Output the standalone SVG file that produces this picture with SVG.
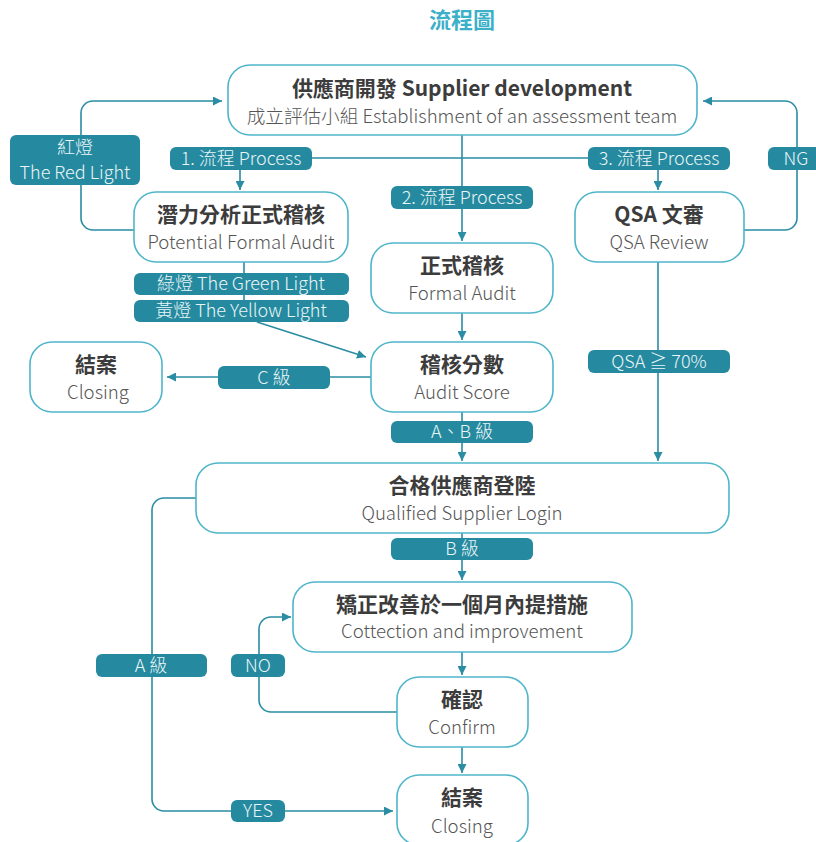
<svg xmlns="http://www.w3.org/2000/svg" width="816" height="842" viewBox="0 0 816 842">
<defs>
<marker id="arr" viewBox="0 0 10 10" refX="10" refY="5" markerWidth="9" markerHeight="9" markerUnits="userSpaceOnUse" orient="auto">
<path d="M0,0 L10,5 L0,10 z" fill="#2a8da3"/>
</marker>
<style>
.node{fill:#fff;stroke:#4fb5ca;stroke-width:1.6}
.t1{font-family:"Noto Sans CJK TC","Noto Sans",sans-serif;font-weight:bold;font-size:21px;fill:#3c3c3c;text-anchor:middle}
.t2{font-family:"Noto Sans CJK TC","Noto Sans",sans-serif;font-weight:300;font-size:18.6px;fill:#555;text-anchor:middle}
.lb{fill:#258a9f}
.lt{font-family:"Noto Sans CJK TC","Noto Sans",sans-serif;font-weight:300;font-size:18px;fill:#eaf5f7;text-anchor:middle}
.c{fill:none;stroke:#2a8da3;stroke-width:1.6}
.ca{fill:none;stroke:#2a8da3;stroke-width:1.6;marker-end:url(#arr)}
</style>
</defs>
<rect width="816" height="842" fill="#fff"/>
<text x="462" y="28" font-family="'Noto Sans CJK TC',sans-serif" font-weight="bold" font-size="22" fill="#3cb0c9" text-anchor="middle">流程圖</text>

<g id="connectors">
<path class="ca" d="M134,230 H93 A12,12 0 0 1 81,218 V113 A12,12 0 0 1 93,101 H222"/>
<path class="ca" d="M744,230 H785 A12,12 0 0 0 797,218 V113 A12,12 0 0 0 785,101 H703"/>
<path class="ca" d="M462,135 V241"/>
<path class="ca" d="M462,158 H252 A12,12 0 0 0 240,170 V190"/>
<path class="ca" d="M462,158 H646 A12,12 0 0 1 658,170 V190"/>
<path class="c" d="M244,262 V300"/>
<path class="ca" d="M257,322 L366,357"/>
<path class="ca" d="M462,313 V340"/>
<path class="ca" d="M371,377 H167"/>
<path class="ca" d="M462,412 V461"/>
<path class="ca" d="M658,262 V461"/>
<path class="ca" d="M462,533 V580"/>
<path class="ca" d="M462,652 V675"/>
<path class="ca" d="M462,747 V773"/>
<path class="ca" d="M397,712 H271 A12,12 0 0 1 259,700 V629 A12,12 0 0 1 271,617 H291"/>
<path class="ca" d="M196,498 H164 A12,12 0 0 0 152,510 V799 A12,12 0 0 0 164,811 H393"/>
</g>

<g id="labels">
<rect class="lb" x="10" y="135" width="130" height="50" rx="6"/>
<text class="lt" x="75" y="154">紅燈</text>
<text class="lt" x="75" y="179">The Red Light</text>
<rect class="lb" x="768" y="147" width="56" height="23" rx="6"/>
<text class="lt" x="796" y="165">NG</text>
<rect class="lb" x="170" y="147" width="142" height="23" rx="6"/>
<text class="lt" x="241" y="165">1. 流程 Process</text>
<rect class="lb" x="588" y="147" width="142" height="23" rx="6"/>
<text class="lt" x="659" y="165">3. 流程 Process</text>
<rect class="lb" x="391" y="186" width="142" height="23" rx="6"/>
<text class="lt" x="462" y="204">2. 流程 Process</text>
<rect class="lb" x="134" y="273" width="215" height="22" rx="6"/>
<text class="lt" x="241" y="290">綠燈 The Green Light</text>
<rect class="lb" x="134" y="300" width="215" height="22" rx="6"/>
<text class="lt" x="241" y="317">黃燈 The Yellow Light</text>
<rect class="lb" x="218" y="366" width="112" height="23" rx="6"/>
<text class="lt" x="274" y="384">C 級</text>
<rect class="lb" x="588" y="350" width="142" height="23" rx="6"/>
<text class="lt" x="659" y="368">QSA ≧ 70%</text>
<rect class="lb" x="391" y="421" width="142" height="22" rx="6"/>
<text class="lt" x="462" y="438">A、B 級</text>
<rect class="lb" x="391" y="538" width="142" height="22" rx="6"/>
<text class="lt" x="462" y="555">B 級</text>
<rect class="lb" x="96" y="654" width="111" height="23" rx="6"/>
<text class="lt" x="151" y="672">A 級</text>
<rect class="lb" x="231" y="654" width="54" height="23" rx="6"/>
<text class="lt" x="258" y="672">NO</text>
<rect class="lb" x="231" y="800" width="54" height="22" rx="6"/>
<text class="lt" x="258" y="817">YES</text>
</g>

<g id="n-dev">
<rect class="node" x="228" y="65" width="469" height="70" rx="22"/>
<text class="t1" x="462" y="96">供應商開發 Supplier development</text>
<text class="t2" x="462" y="123">成立評估小組 Establishment of an assessment team</text>
</g>
<g id="n-potential">
<rect class="node" x="134" y="192" width="214" height="70" rx="22"/>
<text class="t1" x="241" y="222">潛力分析正式稽核</text>
<text class="t2" x="241" y="249">Potential Formal Audit</text>
</g>
<g id="n-formal">
<rect class="node" x="371" y="243" width="182" height="70" rx="22"/>
<text class="t1" x="462" y="273">正式稽核</text>
<text class="t2" x="462" y="300">Formal Audit</text>
</g>
<g id="n-qsa">
<rect class="node" x="575" y="192" width="169" height="70" rx="22"/>
<text class="t1" x="659" y="222">QSA 文審</text>
<text class="t2" x="659" y="249">QSA Review</text>
</g>
<g id="n-score">
<rect class="node" x="371" y="342" width="182" height="70" rx="22"/>
<text class="t1" x="462" y="372">稽核分數</text>
<text class="t2" x="462" y="399">Audit Score</text>
</g>
<g id="n-closing1">
<rect class="node" x="30" y="342" width="132" height="70" rx="22"/>
<text class="t1" x="96" y="372">結案</text>
<text class="t2" x="98" y="399">Closing</text>
</g>
<g id="n-qualified">
<rect class="node" x="196" y="463" width="533" height="70" rx="22"/>
<text class="t1" x="462" y="493">合格供應商登陸</text>
<text class="t2" x="462" y="520">Qualified Supplier Login</text>
</g>
<g id="n-correct">
<rect class="node" x="293" y="582" width="339" height="70" rx="22"/>
<text class="t1" x="462" y="612">矯正改善於一個月內提措施</text>
<text class="t2" x="462" y="638">Cottection and improvement</text>
</g>
<g id="n-confirm">
<rect class="node" x="397" y="677" width="131" height="70" rx="22"/>
<text class="t1" x="462" y="707">確認</text>
<text class="t2" x="462" y="734">Confirm</text>
</g>
<g id="n-closing2">
<rect class="node" x="397" y="775" width="131" height="70" rx="22"/>
<text class="t1" x="462" y="805">結案</text>
<text class="t2" x="462" y="833">Closing</text>
</g>
</svg>
